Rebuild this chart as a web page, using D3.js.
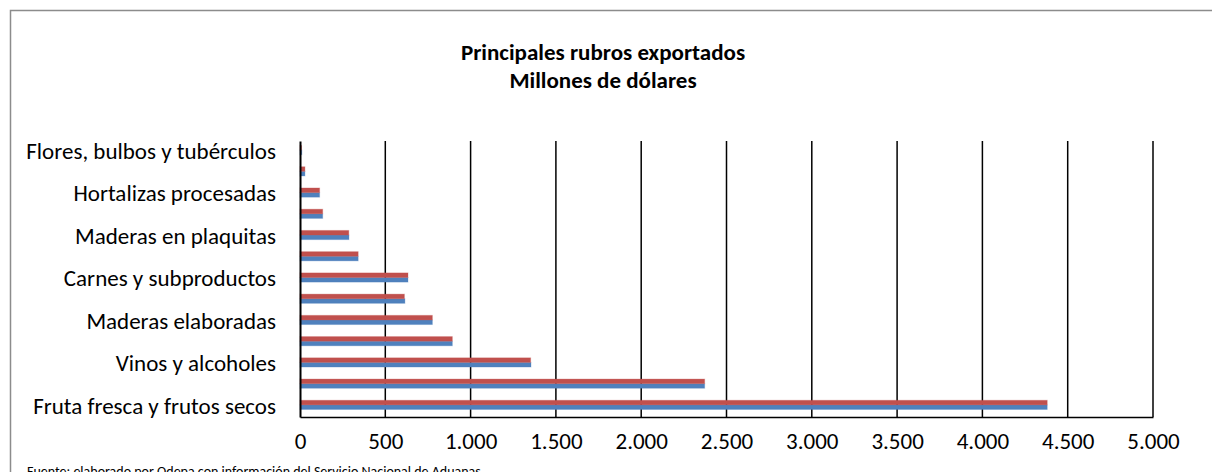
<!DOCTYPE html>
<html>
<head>
<meta charset="utf-8">
<script src="https://cdn.jsdelivr.net/npm/d3@7"></script>
<style>
  body { margin: 0; background: #fff; }
  text { font-family: Calibri, Carlito, Lato, sans-serif; fill: #000; }
</style>
</head>
<body>
<svg id="chart" width="1212" height="472"></svg>
<script>
// categories, bottom to top (only every second one is labelled in the original)
const categories = [
  "Fruta fresca y frutos secos", "Celulosa, papel y otros", "Vinos y alcoholes",
  "Fruta procesada", "Maderas elaboradas", "Maderas aserradas",
  "Carnes y subproductos", "Semillas", "Maderas en plaquitas",
  "Lácteos", "Hortalizas procesadas", "Hortalizas frescas",
  "Flores, bulbos y tubérculos"
];
const labelled = [0, 2, 4, 6, 8, 10, 12];
const serie1 = [4380, 2372, 1354, 893, 776, 615, 633, 341, 287, 133, 115, 29, 11];
const serie2 = [4380, 2372, 1352, 893, 776, 612, 633, 341, 286, 133, 115, 29, 9];
const xTicks = [0, 500, 1000, 1500, 2000, 2500, 3000, 3500, 4000, 4500, 5000];

const width = 1212, height = 472;
const margin = { left: 300, right: 59, top: 141, bottom: 55 };
const innerWidth = width - margin.left - margin.right;
const innerHeight = height - margin.top - margin.bottom;

const svg = d3.select("#chart");

// outer frame
svg.append("rect")
   .attr("x", 10.5).attr("y", 10.5)
   .attr("width", 1220).attr("height", 480)
   .attr("fill", "none")
   .attr("stroke", "#8c8c8c")
   .attr("stroke-width", 1.5);

// title
svg.append("text")
   .attr("x", 603).attr("y", 60)
   .attr("text-anchor", "middle")
   .style("font-size", "23px").style("font-weight", "bold")
   .text("Principales rubros exportados");
svg.append("text")
   .attr("x", 603).attr("y", 88)
   .attr("text-anchor", "middle")
   .style("font-size", "23px").style("font-weight", "bold")
   .text("Millones de dólares");

const g = svg.append("g")
             .attr("transform", `translate(${margin.left}, ${margin.top})`);

const xScale = d3.scaleLinear()
                 .domain([0, 5000])
                 .range([0, innerWidth]);

const yScale = d3.scaleBand()
                 .domain(categories)
                 .range([innerHeight, 0]);

const locale = d3.formatLocale({ decimal: ",", thousands: ".", grouping: [3], currency: ["$", ""] });
const fmt = locale.format(",d");

// gridlines
g.append("g")
 .selectAll("line")
 .data(xTicks.slice(1))
 .join("line")
    .attr("x1", d => xScale(d)).attr("x2", d => xScale(d))
    .attr("y1", 0).attr("y2", innerHeight)
    .attr("stroke", "#000")
    .attr("stroke-width", 1.5);

// bars
const barH = 4.6;
const drawSeries = (data, color, offset) => {
    g.append("g")
     .selectAll("rect")
     .data(data)
     .join("rect")
        .attr("x", 0)
        .attr("y", (d, i) => yScale(categories[i]) + yScale.bandwidth() / 2 + offset)
        .attr("width", d => xScale(d))
        .attr("height", barH)
        .attr("fill", color)
        .attr("stroke", color)
        .attr("stroke-opacity", 0.3)
        .attr("stroke-width", 1);
};
drawSeries(serie1, "#4f81bd", -1.5);
drawSeries(serie2, "#c0504d", -1.5 - barH);

// axes
const xAxis = d3.axisBottom(xScale)
                .tickValues(xTicks)
                .tickFormat(fmt)
                .tickSize(0)
                .tickPadding(16);
const yAxis = d3.axisLeft(yScale)
                .tickValues(labelled.map(i => categories[i]))
                .tickSize(0)
                .tickPadding(24);

const xg = g.append("g")
            .attr("transform", `translate(0, ${innerHeight})`)
            .call(xAxis);
xg.select(".domain").attr("stroke", "#000").attr("stroke-width", 1.5);
xg.selectAll("text").style("font-size", "23px").style("font-family", null);

const yg = g.append("g").call(yAxis);
yg.select(".domain").attr("stroke", "#000").attr("stroke-width", 2);
yg.selectAll("text").style("font-size", "23px").style("font-family", null);

// source note
svg.append("text")
   .attr("x", 27).attr("y", 476)
   .style("font-size", "14px")
   .text("Fuente:  elaborado por  Odepa con información del Servicio Nacional de Aduanas.");
</script>
</body>
</html>
